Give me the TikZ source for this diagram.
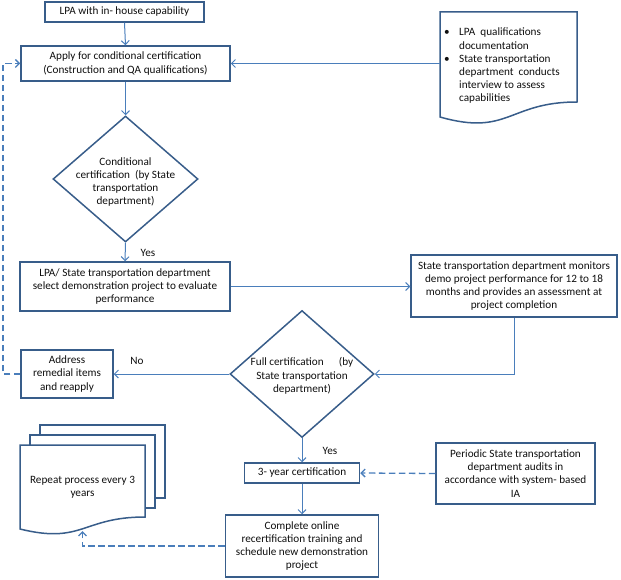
\documentclass[tikz,border=0pt]{standalone}
\usepackage{fontspec}
\setmainfont{Carlito}
\usetikzlibrary{arrows.meta,shapes.geometric}
\definecolor{shapeblue}{RGB}{56,93,138}
\definecolor{connblue}{RGB}{74,126,187}
\definecolor{txt}{RGB}{15,15,15}
\begin{document}
\begin{tikzpicture}[x=1pt,y=-1pt,
  every node/.style={font=\fontsize{11.2}{13.2}\selectfont, text=txt},
  box/.style={draw=shapeblue, line width=1.5pt, fill=white, align=center, inner sep=0pt},
  shp/.style={draw=shapeblue, line width=1.5pt, fill=white},
  dia/.style={diamond, draw=shapeblue, line width=1.5pt, inner sep=0pt},
  conn/.style={draw=connblue, line width=1pt, -{Straight Barb[length=4pt,width=8pt]}},
  dconn/.style={conn, line width=1.3pt, dash pattern=on 6.5pt off 3.5pt},
  lbl/.style={inner sep=0pt}]
\useasboundingbox (0,0) rectangle (621,580);

% boxes
\node[box, minimum width=159pt, minimum height=20pt] (b1) at (124.5,12) {LPA with in- house capability};
\node[box, minimum width=209pt, minimum height=35pt] (b2) at (125.5,63.5) {Apply for conditional certification\\(Construction and QA qualifications)};
\node[dia, minimum width=145pt, minimum height=126pt] (d1) at (125.5,179) {};
\node[align=center] at (125.5,182) {Conditional\\certification~ (by State\\transportation\\department)};
\node[box, minimum width=210pt, minimum height=49pt] (b3) at (125,286.5) {LPA/ State transportation department\\select demonstration project to evaluate\\performance};
\node[box, minimum width=206pt, minimum height=62pt] (b4) at (514,286) {State transportation department monitors\\demo project performance for 12 to 18\\months and provides an assessment at\\project completion};
\node[dia, minimum width=144pt, minimum height=127pt] (d2) at (302,374) {};
\node[align=center] at (302,376) {Full certification~~~~~ (by\\State transportation\\department)};
\node[box, minimum width=92pt, minimum height=48pt] (b5) at (67,374) {Address\\remedial items\\and reapply};
\node[box, minimum width=115pt, minimum height=20pt] (b6) at (302,473) {3- year certification};
\node[box, minimum width=159pt, minimum height=61pt] (b7) at (515.5,473.5) {Periodic State transportation\\department audits in\\accordance with system- based\\IA};
\node[box, minimum width=153pt, minimum height=62pt] (b8) at (302,546) {Complete online\\recertification training and\\schedule new demonstration\\project};

% document shape (bullets)
\draw[shp] (440,12) -- (577,12) -- (577,102) .. controls (508.5,102) and (508.5,136.5) .. (440,117) -- cycle;
\node[inner sep=0pt, minimum width=137pt, minimum height=96pt] (doc1) at (508.5,60) {};
\node[anchor=base west, inner sep=0pt] (doctext) at (444,36) {\begin{tabular}[t]{@{}p{15pt}@{}l@{}}
\textbullet & LPA~ qualifications\\
 & documentation\\
\textbullet & State transportation\\
 & department~ conducts\\
 & interview to assess\\
 & capabilities
\end{tabular}};

% multi-document
\draw[shp] (40,425) rectangle (165,498);
\draw[shp] (30,435) rectangle (155,508);
\draw[shp] (20,445) -- (145,445) -- (145,517) .. controls (82.5,517) and (82.5,544.5) .. (20,529) -- cycle;
\node[align=center, inner sep=0pt, minimum width=125pt, minimum height=72pt] (md) at (82.5,481) {};
\node[align=center] at (82.5,487) {Repeat process every 3\\years};
\coordinate (mdb) at (82.5,531);

% labels
\node[lbl] (y1) at (148,253) {Yes};
\node[lbl] (n1) at (137,361) {No};
\node[lbl] (y2) at (330,451) {Yes};

% connectors
\draw[conn] (b1.south) -- (b2.north);
\draw[conn] (doc1.west |- b2.east) -- (b2.east);
\draw[conn] (b2.south) -- (d1.north);
\draw[conn] (d1.south) -- (b3.north);
\draw[conn] (b3.east) -- (b3.east -| b4.west);
\draw[conn] (b4.south) |- (d2.east);
\draw[conn] (d2.west) -- (b5.east);
\draw[conn] (d2.south) -- (b6.north);
\draw[conn] (b6.south) -- (b8.north);
\draw[dconn] (b7.west) -- (b6.east);
\draw[dconn] (b5.west) -- (3,374) -- (3,63.5) -- (b2.west);
\draw[dconn] (b8.west) -| (mdb);
\end{tikzpicture}
\end{document}
